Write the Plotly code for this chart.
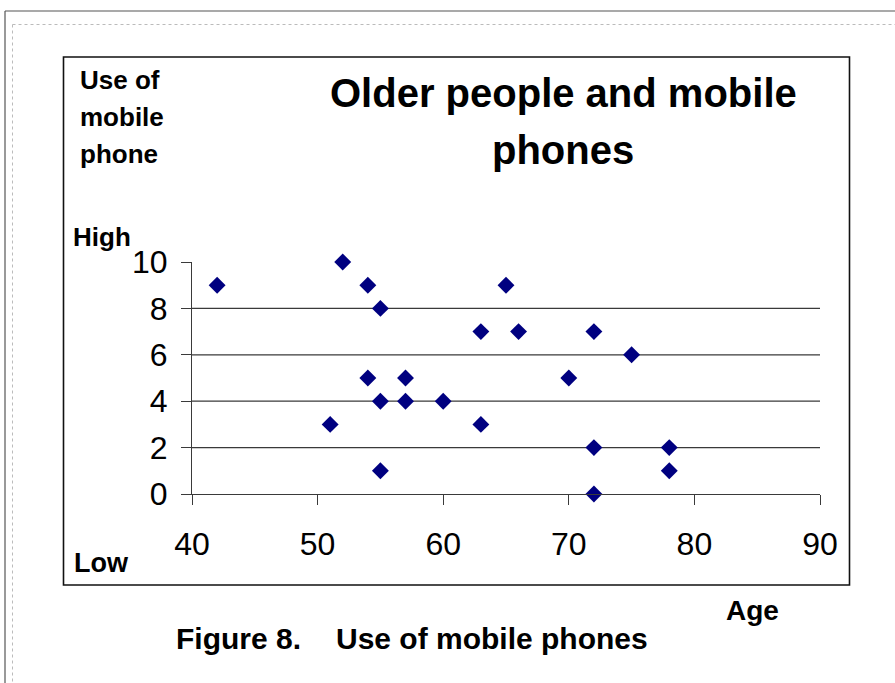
import plotly.graph_objects as go

# Survey responses: respondent age and self-rated use of a mobile phone (0 = low, 10 = high)
ages = [42, 52, 54, 65, 55, 63, 66, 72, 75, 54, 57, 70, 55, 57, 60, 51, 63, 72, 78, 55, 78, 72]
use_scores = [9, 10, 9, 9, 8, 7, 7, 7, 6, 5, 5, 5, 4, 4, 4, 3, 3, 2, 2, 1, 1, 0]

x_ticks = [40, 50, 60, 70, 80, 90]
y_ticks = [0, 2, 4, 6, 8, 10]
grid_levels = [2, 4, 6, 8]

W, H = 895, 683
# plot area in page pixels
L, R, T, B = 192, 820, 262, 494

FONT = "Liberation Sans, Arial, Helvetica, sans-serif"
LINE = "#3a3a3a"


def px(xp):
    return (xp - L) / (R - L)


def py(yp):
    return (B - yp) / (B - T)


fig = go.Figure()
fig.add_trace(go.Scatter(
    x=ages, y=use_scores, mode="markers",
    marker=dict(symbol="diamond", size=13, color="#000080", line=dict(width=0)),
    cliponaxis=False, showlegend=False,
    hovertemplate="Age %{x}<br>Use %{y}<extra></extra>",
))

shapes = []
# horizontal gridlines between the axis and the top tick
for g in grid_levels:
    shapes.append(dict(type="line", xref="paper", yref="y", x0=0, x1=1, y0=g, y1=g,
                       line=dict(color=LINE, width=1.2), layer="below"))
# chart border
shapes.append(dict(type="rect", xref="paper", yref="paper",
                   x0=px(63.5), x1=px(849.5), y0=py(57), y1=py(585),
                   line=dict(color="#111111", width=1.6), layer="below"))
# page frame: solid outer edge and dotted inner edge
shapes.append(dict(type="line", xref="paper", yref="paper", x0=px(5), x1=px(900), y0=py(11), y1=py(11),
                   line=dict(color="#555555", width=1.2)))
shapes.append(dict(type="line", xref="paper", yref="paper", x0=px(5), x1=px(5), y0=py(11), y1=py(690),
                   line=dict(color="#555555", width=1.2)))
shapes.append(dict(type="line", xref="paper", yref="paper", x0=px(12.5), x1=px(900), y0=py(24.5), y1=py(24.5),
                   line=dict(color="#bbbbbb", width=1, dash="dot")))
shapes.append(dict(type="line", xref="paper", yref="paper", x0=px(12.5), x1=px(12.5), y0=py(24.5), y1=py(690),
                   line=dict(color="#bbbbbb", width=1, dash="dot")))


def label(text, x, y, size, xanchor="left"):
    return dict(text=text, xref="paper", yref="paper", x=px(x), y=py(y),
                xanchor=xanchor, yanchor="middle", showarrow=False,
                font=dict(family=FONT, size=size, color="#000000"))


annotations = [
    label("<b>Older people and mobile</b>", 563, 93, 40, "center"),
    label("<b>phones</b>", 563, 150, 40, "center"),
    label("<b>Use of</b>", 78, 80, 26),
    label("<b>mobile</b>", 78, 117, 26),
    label("<b>phone</b>", 78, 154, 26),
    label("<b>High</b>", 71, 237, 26),
    label("<b>Low</b>", 72, 563, 27),
    label("<b>Age</b>", 752, 610, 28, "center"),
    label("<b>Figure 8.</b>", 174, 638, 30),
    label("<b>Use of mobile phones</b>", 334, 638, 30),
]

fig.update_layout(
    width=W, height=H,
    margin=dict(l=L, r=W - R, t=T, b=H - B, pad=0),
    paper_bgcolor="white", plot_bgcolor="white",
    shapes=shapes, annotations=annotations,
    font=dict(family=FONT, color="#000000"),
)
fig.update_xaxes(
    range=[40, 90], tickvals=x_ticks, ticks="outside", ticklen=10, tickwidth=1.2,
    tickcolor=LINE, showline=True, linecolor=LINE, linewidth=1.2,
    showgrid=False, zeroline=False, tickfont=dict(size=32, family=FONT),
    ticklabelstandoff=11,
)
fig.update_yaxes(
    range=[0, 10], tickvals=y_ticks, ticks="outside", ticklen=10, tickwidth=1.2,
    tickcolor=LINE, showline=True, linecolor=LINE, linewidth=1.2,
    showgrid=False, zeroline=False, tickfont=dict(size=32, family=FONT),
    ticklabelstandoff=7,
)

fig.write_html("out.html")
